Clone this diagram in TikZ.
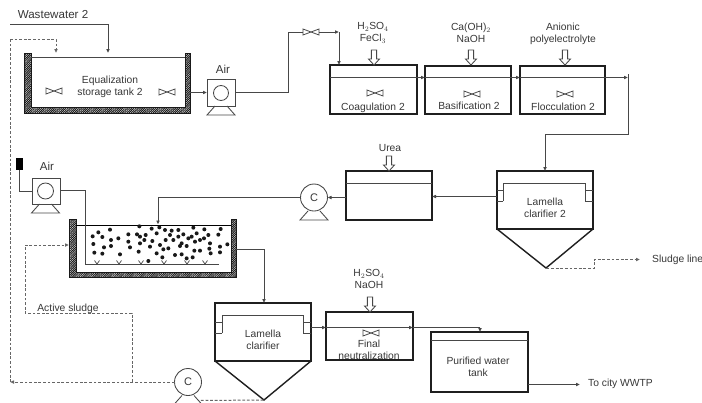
\documentclass[tikz,border=0pt]{standalone}
\usepackage{fontspec}
\setmainfont{Liberation Sans}
\usetikzlibrary{arrows.meta,patterns.meta}
\tikzset{
  lbl/.style={font=\fontsize{10.3}{12}\selectfont,text=black!78,inner sep=0pt,align=center},
  tankbox/.style={draw=black!88,line width=1.4pt,inner sep=0pt,outer sep=0pt},
  flow/.style={draw=black!72,line width=.85pt,-{Latex[length=4pt,width=3.8pt]}},
  pipe/.style={draw=black!72,line width=.85pt},
  sludge/.style={draw=black!60,line width=1pt,dash pattern=on 2.8pt off 1.8pt},
  sludgeflow/.style={sludge,-{Latex[length=4pt,width=3.8pt]}},
  wall/.style={draw=black!90,line width=.9pt,pattern={Lines[angle=45,distance=1.3pt,line width=.85pt]},pattern color=black!90},
  blowerbox/.style={draw=black!72,line width=.85pt,minimum width=28pt,minimum height=27pt,inner sep=0pt,outer sep=0pt},
  pumpring/.style={circle,draw=black!72,line width=.85pt,inner sep=0pt,outer sep=0pt},
  feet/.pic={\draw[black!72,line width=.85pt] (-6,0) -- (-14,9) -- (14,9) -- (6,0);},
  valve/.pic={\draw[black!72,line width=.8pt] (-8,-3) -- (8,3) -- (8,-3) -- (-8,3) -- cycle;},
  chem/.pic={\draw[black!72,line width=.85pt,fill=white] (0,0) -- (-5.5,-6) -- (-2.6,-6) -- (-2.6,-15) -- (2.6,-15) -- (2.6,-6) -- (5.5,-6) -- cycle;},
}
\begin{document}
\begin{tikzpicture}[x=1pt,y=-1pt]
\clip (0,0) rectangle (702,402);
\fill[white] (0,0) rectangle (702,402);
% equalization tank
\node[inner sep=0pt,outer sep=0pt,minimum width=166pt,minimum height=60pt] (eqtank) at (107,83) {};
\draw[wall] (24,53) -- (31,53) -- (31,107) -- (185,107) -- (185,53) -- (190,53) -- (190,113) -- (24,113) -- cycle;
\draw[pipe] (31,57.5) -- (185,57.5);
\node[lbl] (eqlabel) at (110,87) {Equalization\\[0pt]storage tank 2};
\pic at (54,91) {valve};
\pic at (167,92) {valve};
\coordinate (wwstart) at (10,24);
\node[lbl,font=\fontsize{11.6}{13}\selectfont] (wwlabel) at (53,15) {Wastewater 2};
\coordinate (wwtop) at (108,24);
\draw[flow] (wwstart) -- (wwtop) -- (wwtop |- eqtank.north);
% first blower
\node[blowerbox] (blowerA) at (221,92.5) {};
\node[pumpring,minimum size=15pt] (ringA) at (221,93) {};
\pic at (221,106) {feet};
\node[lbl,font=\fontsize{11.5}{13}\selectfont] (airA) at (223,69) {Air};
\draw[flow] (eqtank.east |- blowerA) -- (blowerA.west);
% dosing tanks
\node[tankbox,minimum width=87pt,minimum height=49pt] (coag) at (373.5,89.5) {};
\node[tankbox,minimum width=86pt,minimum height=48pt] (basif) at (468,90) {};
\node[tankbox,minimum width=85pt,minimum height=48pt] (flocc) at (562.5,90) {};
\node[lbl] (coaglabel) at (373,108) {Coagulation 2};
\node[lbl] (basiflabel) at (469,106) {Basification 2};
\node[lbl] (flocclabel) at (563,107) {Flocculation 2};
\pic at (375,93) {valve};
\pic at (472,94) {valve};
\pic at (565,94) {valve};
\pic at (374,65) {chem};
\pic at (471,65) {chem};
\pic at (565,65) {chem};
\node[lbl] (coagchem) at (373,33) {H$_2$SO$_4$\\FeCl$_3$};
\node[lbl] (basifchem) at (471,33) {Ca(OH)$_2$\\NaOH};
\node[lbl] (floccchem) at (563,34) {Anionic\\polyelectrolyte};
\coordinate (feedturn) at (288,32);
\node[inner sep=0pt,minimum width=16pt,minimum height=6pt] (valveA) at (311,32) {};
\pic at (311,32) {valve};
\coordinate (feedcorner) at (339,32);
\draw[pipe] (blowerA.east) -- (feedturn |- blowerA) -- (feedturn) -- (valveA.west);
\draw[flow] (valveA.east) -- (feedcorner);
\draw[flow] (feedcorner) -- (feedcorner |- coag.north);
\coordinate (floccout) at (628,77.5);
\draw[pipe] (coag.west |- floccout) -- (coag.east |- floccout);
\draw[flow] (coag.east |- floccout) -- (basif.west |- floccout);
\draw[pipe] (basif.west |- floccout) -- (basif.east |- floccout);
\draw[flow] (basif.east |- floccout) -- (flocc.west |- floccout);
\draw[flow] (flocc.west |- floccout) -- (floccout);
% lamella clarifier 2
\node[tankbox,minimum width=96pt,minimum height=58pt] (lamB) at (545,200) {};
\node[inner sep=0pt,outer sep=0pt] (lamBapex) at (546,268) {};
\draw[tankbox] (lamB.south west) -- (lamBapex.center) -- (lamB.south east);
\draw[pipe] (503,201) -- (503,183) -- (585,183) -- (585,201) -- (593,201) (585,190) -- (593,190) (497,190) -- (503,190) (497,201) -- (503,201);
\node[lbl] (lamBlabel) at (545,207.5) {Lamella\\clarifier 2};
\coordinate (feedB) at (545,134);
\draw[pipe] (floccout |- 0,74) -- (floccout |- feedB) -- (feedB);
\draw[flow] (feedB) -- (lamB.north);
\coordinate (sludgeA) at (594,268);
\coordinate (sludgeB) at (594,259.5);
\coordinate (sludgeC) at (640,259.5);
\draw[sludgeflow] (lamBapex) -- (sludgeA) -- (sludgeB) -- (sludgeC);
\node[lbl,anchor=west] (sludgelabel) at (652,260) {Sludge line};
% urea tank and pump
\node[tankbox,minimum width=86pt,minimum height=49pt] (urea) at (389,195.5) {};
\draw[pipe] (urea.west |- 0,183) -- (urea.east |- 0,183);
\pic at (389,171) {chem};
\node[lbl] (urealabel) at (390,148) {Urea};
\draw[flow] (lamB.west |- 0,196.5) -- (urea.east |- 0,196.5);
\node[pumpring,minimum size=27pt,font=\fontsize{11}{13}\selectfont,text=black!78] (pumpA) at (314,197.5) {C};
\pic at (314,211) {feet};
\draw[flow] (urea.west |- pumpA) -- (pumpA.east);
% aeration tank
\node[inner sep=0pt,outer sep=0pt,minimum width=167pt,minimum height=58pt] (aertank) at (152.5,248) {};
\draw[wall] (69,219) -- (76,219) -- (76,272) -- (231,272) -- (231,219) -- (236,219) -- (236,277) -- (69,277) -- cycle;
\draw[pipe,black] (76,225) -- (231,225);
\foreach \dx/\dy in {295/277,330/269,278/289,307/291,355/295,333/300,385/283,411/283,418/259,455/266,478/262,495/270,515/272,535/270,580/263,613/268,662/267,655/284,385/305,390/322,437/285,433/300,420/310,457/303,470/280,497/300,480/315,450/320,520/300,535/290,545/310,565/295,590/280,600/300,625/285,630/310,660/320,682/313,280/312,283/338,307/341,312/322,333/318,360/343,416/335,445/363,487/352,490/328,525/345,545/343,560/355,578/352,600/332,583/332,632/340,660/337,628/326,560/318,585/305,540/318,470/340,505/325,612/295,550/283,575/290,510/285,420/290}
  \fill[black!90] ({\dx/3},{140+\dy/3}) circle (2pt);
\coordinate (pumpAout) at (158,197.5);
\draw[pipe] (pumpA.west) -- (pumpAout);
\draw[flow] (pumpAout) -- (158,224.5);
% second blower
\node[blowerbox,minimum height=26pt] (blowerB) at (46,191) {};
\node[pumpring,minimum size=16pt] (ringB) at (45.5,191) {};
\pic at (45.5,204) {feet};
\node[lbl,font=\fontsize{11.5}{13}\selectfont] (airB) at (47,166) {Air};
\node[fill=black,inner sep=0pt,minimum width=7pt,minimum height=12pt] (block) at (19.5,164) {};
\draw[pipe] (block.south) -- (block.south |- blowerB) -- (blowerB.west);
\coordinate (diffA) at (85,190.5);
\coordinate (diffB) at (85,264);
\coordinate (diffC) at (219,264);
\draw[pipe] (blowerB.east |- diffA) -- (diffA) -- (diffB) -- (diffC);
\foreach \gx in {97,119,141,164,187,205}
  \draw[black!72,line width=.7pt] (\gx-2.5,260.5) -- (\gx,264) -- (\gx+2.5,260.5);
% lamella clarifier
\node[tankbox,minimum width=96pt,minimum height=58pt] (lamA) at (263,332) {};
\node[inner sep=0pt,outer sep=0pt] (lamAapex) at (264,400) {};
\draw[tankbox] (lamA.south west) -- (lamAapex.center) -- (lamA.south east);
\draw[pipe] (222,333) -- (222,315) -- (303,315) -- (303,333) -- (311,333) (303,322) -- (311,322) (215,322) -- (222,322) (215,333) -- (222,333);
\node[lbl] (lamAlabel) at (263,339.5) {Lamella\\clarifier};
\coordinate (aerout) at (264,249);
\draw[pipe] (aertank.east |- aerout) -- (aerout);
\draw[flow] (aerout) -- (aerout |- lamA.north);
% final neutralization
\node[tankbox,minimum width=87pt,minimum height=48pt] (final) at (369.5,336) {};
\coordinate (lineout) at (480,327.5);
\draw[flow] (lamA.east |- lineout) -- (final.west |- lineout);
\draw[flow] (final.west |- lineout) -- (final.east |- lineout);
\draw[pipe] (final.east |- lineout) -- (lineout);
\pic at (371,333) {valve};
\node[lbl] (finallabel) at (369,349.5) {Final\\neutralization};
\pic at (370,312) {chem};
\node[lbl] (finalchem) at (369,279) {H$_2$SO$_4$\\NaOH};
% purified water tank
\node[tankbox,minimum width=97pt,minimum height=60pt] (pure) at (479.5,362) {};
\draw[flow] (lineout) -- (lineout |- pure.north);
\draw[pipe] (pure.west |- 0,340) -- (pure.east |- 0,340);
\node[lbl] (purelabel) at (478,366.5) {Purified water\\tank};
\coordinate (cityend) at (580,384.5);
\draw[flow] (pure.east |- cityend) -- (cityend);
\node[lbl,anchor=west] (citylabel) at (588,384) {To city WWTP};
% recycle lines
\node[pumpring,minimum size=27pt,font=\fontsize{11}{13}\selectfont,text=black!78] (pumpB) at (188,382) {C};
\pic at (188,395.5) {feet};
\coordinate (retleft) at (10,382);
\coordinate (rettop) at (10,39);
\coordinate (retdown) at (56,39);
\coordinate (pumpBin) at (199,400.5);
\draw[sludge] (lamAapex) -- (pumpBin);
\draw[sludgeflow] (pumpB.west) -- (retleft);
\draw[sludgeflow] (rettop) -- (retdown) -- (retdown |- eqtank.north);
\draw[sludge] (rettop) -- (retleft);
\coordinate (actA) at (132,382);
\coordinate (actB) at (132,313);
\coordinate (actC) at (25,313);
\coordinate (actD) at (25,245);
\draw[sludgeflow] (actA) -- (actB) -- (actC) -- (actD) -- (aertank.west |- actD);
\node[lbl] (actlabel) at (68,309) {Active sludge};
\end{tikzpicture}
\end{document}
